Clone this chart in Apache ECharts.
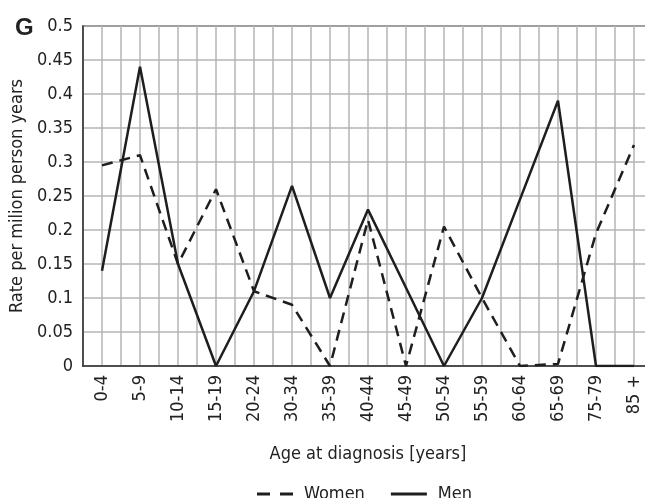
<!DOCTYPE html>
<html>
<head>
<meta charset="utf-8">
<script src="https://cdn.jsdelivr.net/npm/echarts@6/dist/echarts.min.js"></script>
<style>
html,body{margin:0;padding:0;background:#fff;}
#chart{width:645px;height:498px;}
</style>
</head>
<body>
<div id="chart"></div>
<script>
const categories = ['0-4','5-9','10-14','15-19','20-24','30-34','35-39','40-44','45-49','50-54','55-59','60-64','65-69','75-79','85 +'];
const women = [0.295,0.31,0.15,0.26,0.11,0.09,0,0.215,0,0.205,0.1,0,0.003,0.195,0.325];
const men = [0.14,0.44,0.15,0,0.11,0.265,0.1,0.23,0.115,0,0.1,0.245,0.39,0,0];
const yTicks = [0,0.05,0.1,0.15,0.2,0.25,0.3,0.35,0.4,0.45,0.5];

const FONT = '"Liberation Sans Narrow","DejaVu Sans Condensed",sans-serif';
const chart = echarts.init(document.getElementById('chart'), null, {renderer:'canvas'});
const toPts = arr => arr.map((v,i)=>[i,v]);

chart.setOption({
  animation:false,
  backgroundColor:'#fff',
  title:{text:'G', left:10, top:11, textStyle:{fontFamily:'"Liberation Sans",Arial,sans-serif', fontWeight:'bold', fontSize:24, color:'#222'}},
  grid:{left:83, top:26, right:-8, bottom:132, show:true, borderColor:'#333', borderWidth:1.5, outerBoundsMode:'none', containLabel:false},
  legend:{
    data:[
      {name:'Women', icon:'path://M0,0H13V3H0Z M23,0H36V3H23Z'},
      {name:'Men', icon:'path://M0,0H36V3H0Z'}
    ],
    top:480, left:252,
    itemWidth:36, itemHeight:3, itemGap:26,
    textStyle:{fontFamily:FONT, fontSize:18, color:'#222', padding:[0,0,0,6]}
  },
  xAxis:{
    type:'value', min:-0.5, max:categories.length-0.5, interval:0.5,
    name:'Age at diagnosis [years]', nameLocation:'middle', nameGap:79,
    nameTextStyle:{fontFamily:FONT, fontSize:18, color:'#222'},
    axisLine:{show:true, onZero:false, lineStyle:{color:'#333', width:1.5}},
    axisTick:{show:false},
    splitLine:{show:true, lineStyle:{color:'#b4b4b4', width:1.5}},
    axisLabel:{
      rotate:90, margin:9, fontFamily:FONT, fontSize:18, color:'#222',
      showMinLabel:true, showMaxLabel:true,
      formatter:v=>{ const r=Math.round(v); return Math.abs(v-r)<1e-6 && r>=0 && r<categories.length ? categories[r] : ''; }
    }
  },
  yAxis:{
    type:'value', min:yTicks[0], max:yTicks[yTicks.length-1], interval:0.05,
    name:'Rate per milion person years', nameLocation:'middle', nameRotate:90, nameGap:54,
    nameTextStyle:{fontFamily:FONT, fontSize:18, color:'#222'},
    axisLine:{show:true, onZero:false, lineStyle:{color:'#333', width:1.5}},
    axisTick:{show:false},
    splitLine:{show:true, lineStyle:{color:'#b4b4b4', width:1.5}},
    axisLabel:{margin:10, fontFamily:FONT, fontSize:18, color:'#222', formatter:v=>String(+v.toFixed(2))}
  },
  series:[
    {name:'Women', type:'line', data:toPts(women), symbol:'none', showSymbol:false,
     lineStyle:{color:'#1e1e1e', width:2.5, type:[11,7]}, itemStyle:{color:'#1e1e1e'}},
    {name:'Men', type:'line', data:toPts(men), symbol:'none', showSymbol:false,
     lineStyle:{color:'#1e1e1e', width:2.5, type:'solid'}, itemStyle:{color:'#1e1e1e'}}
  ]
});
</script>
</body>
</html>
